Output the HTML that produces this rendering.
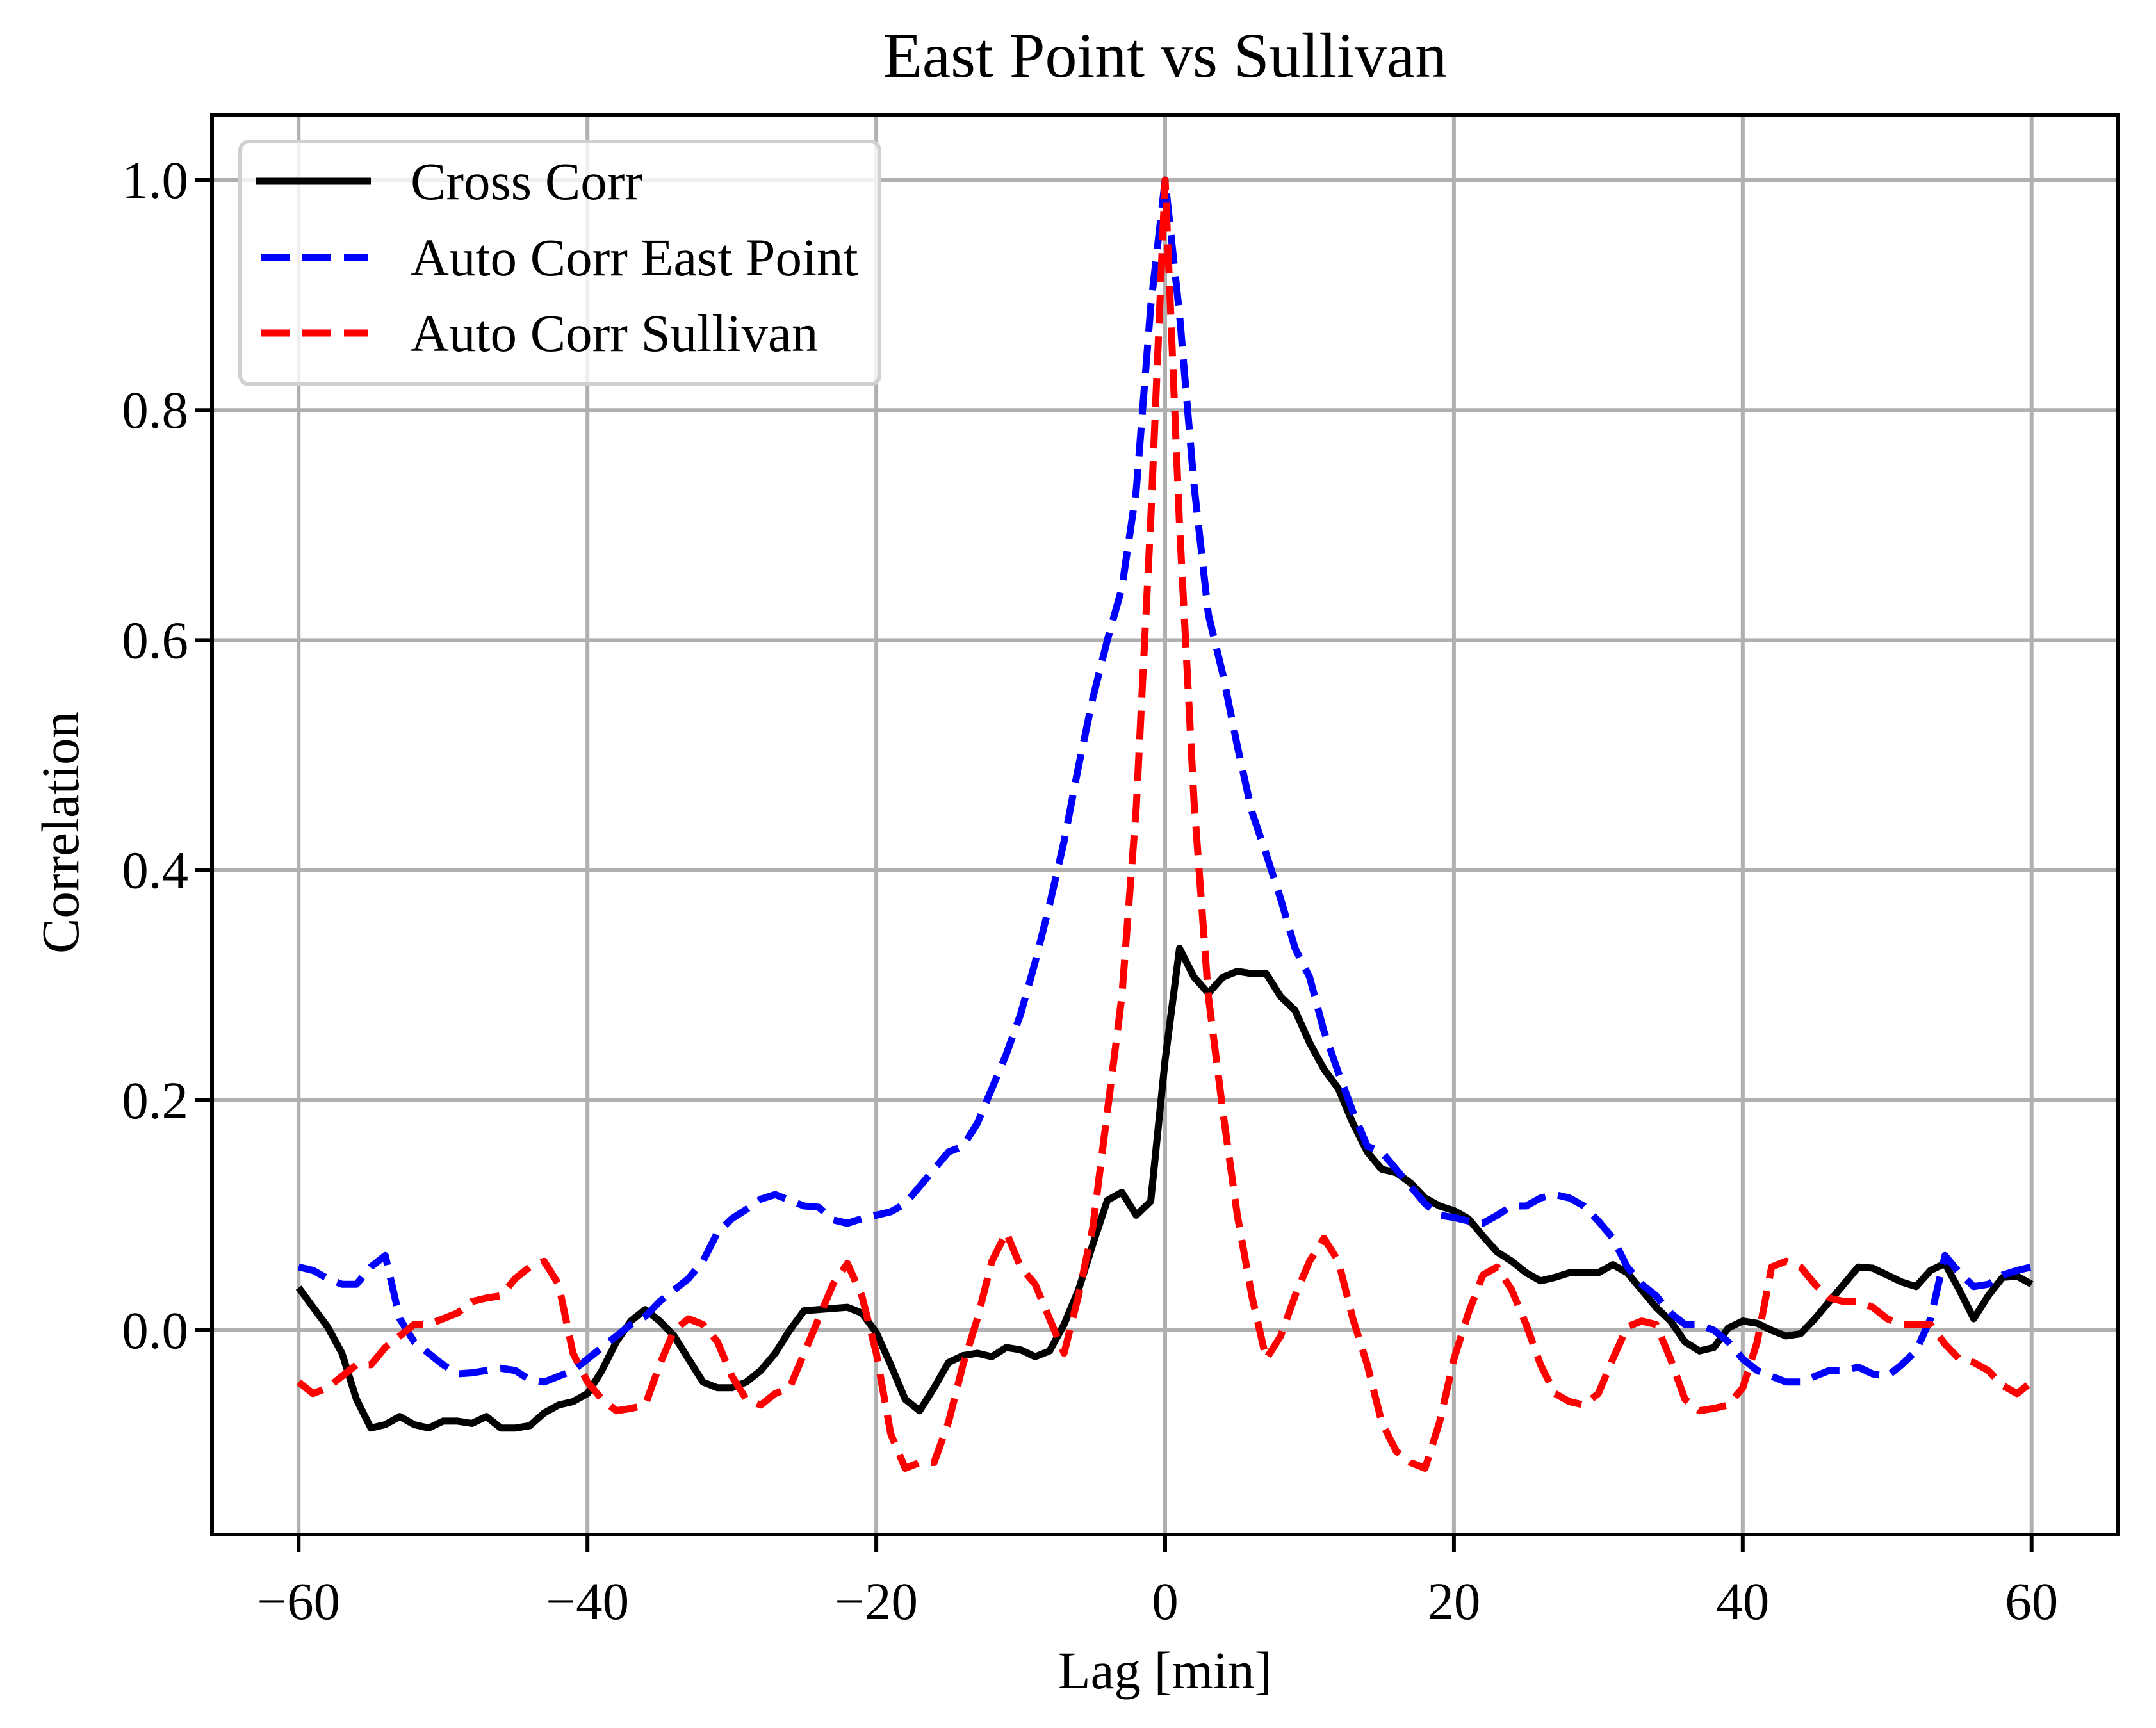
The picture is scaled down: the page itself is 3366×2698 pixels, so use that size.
<!DOCTYPE html>
<html><head><meta charset="utf-8"><style>
html,body{margin:0;padding:0;background:#fff;}
svg{display:block;font-family:"Liberation Serif","DejaVu Serif",serif;}
</style></head><body>
<svg id="chart" width="3366" height="2698" viewBox="0 0 3366 2698" xmlns="http://www.w3.org/2000/svg">
<rect x="0" y="0" width="3366" height="2698" fill="#fff"/>
<g id="grid"></g>
<g id="series"></g>
<rect x="331" y="179" width="2976" height="2217" fill="none" stroke="#000" stroke-width="6"/>
<g id="ticks"></g>
<text x="1819" y="120" font-size="100" text-anchor="middle">East Point vs Sullivan</text>
<text x="1819" y="2636" font-size="83" text-anchor="middle">Lag [min]</text>
<text x="0" y="0" font-size="83" text-anchor="middle" transform="translate(122,1300) rotate(-90)">Correlation</text>
<g>
<rect x="375" y="221" width="998" height="379" rx="14" fill="#fff" fill-opacity="0.8" stroke="#d0d0d0" stroke-width="6"/>
<g>
<line x1="400" y1="283" x2="579" y2="283" stroke="#000" stroke-width="11"/>
<text x="641" y="311" font-size="83">Cross Corr</text></g>
<g>
<line x1="407" y1="402" x2="575" y2="402" stroke="#0000ff" stroke-width="11" stroke-dasharray="45 20"/>
<text x="641" y="430" font-size="83">Auto Corr East Point</text></g>
<g>
<line x1="407" y1="520" x2="575" y2="520" stroke="#ff0000" stroke-width="11" stroke-dasharray="45 20"/>
<text x="641" y="548" font-size="83">Auto Corr Sullivan</text></g>
</g>
</svg>
<script>
const xTicks = [-60, -40, -20, 0, 20, 40, 60];
const xTickLabels = ["\u221260", "\u221240", "\u221220", "0", "20", "40", "60"];
const yTicks = [0.0, 0.2, 0.4, 0.6, 0.8, 1.0];
const yTickLabels = ["0.0", "0.2", "0.4", "0.6", "0.8", "1.0"];
const lagStart = -60;
const crossCorr = [0.037,0.02,0.003,-0.02,-0.06,-0.085,-0.082,-0.075,-0.082,-0.085,-0.079,-0.079,-0.081,-0.075,-0.085,-0.085,-0.083,-0.072,-0.065,-0.062,-0.055,-0.035,-0.01,0.008,0.018,0.008,-0.005,-0.025,-0.045,-0.05,-0.05,-0.045,-0.035,-0.02,0.0,0.017,0.018,0.019,0.02,0.015,-0.002,-0.03,-0.06,-0.07,-0.05,-0.028,-0.022,-0.02,-0.023,-0.015,-0.017,-0.023,-0.018,0.005,0.035,0.075,0.113,0.12,0.1,0.112,0.235,0.332,0.307,0.293,0.307,0.312,0.31,0.31,0.29,0.278,0.25,0.227,0.21,0.18,0.155,0.14,0.137,0.128,0.115,0.108,0.104,0.097,0.082,0.068,0.06,0.05,0.043,0.046,0.05,0.05,0.05,0.057,0.05,0.035,0.02,0.008,-0.01,-0.018,-0.015,0.002,0.008,0.006,0.0,-0.005,-0.003,0.01,0.025,0.04,0.055,0.054,0.048,0.042,0.038,0.052,0.058,0.035,0.01,0.03,0.046,0.047,0.04];
const autoEastPoint = [0.055,0.052,0.045,0.04,0.04,0.055,0.065,0.01,-0.01,-0.02,-0.03,-0.038,-0.037,-0.035,-0.033,-0.035,-0.043,-0.045,-0.04,-0.035,-0.025,-0.015,-0.005,0.005,0.012,0.025,0.035,0.045,0.06,0.085,0.097,0.105,0.114,0.118,0.113,0.108,0.107,0.096,0.093,0.097,0.1,0.103,0.11,0.125,0.14,0.155,0.16,0.18,0.21,0.24,0.275,0.32,0.37,0.425,0.49,0.55,0.6,0.645,0.73,0.89,1.0,0.883,0.735,0.622,0.57,0.508,0.451,0.414,0.375,0.332,0.307,0.26,0.224,0.19,0.16,0.155,0.14,0.125,0.11,0.1,0.098,0.095,0.093,0.1,0.108,0.108,0.115,0.118,0.115,0.108,0.095,0.08,0.055,0.04,0.03,0.015,0.005,0.005,0.0,-0.01,-0.025,-0.035,-0.04,-0.045,-0.045,-0.04,-0.035,-0.035,-0.032,-0.038,-0.04,-0.03,-0.018,0.01,0.065,0.05,0.038,0.04,0.048,0.052,0.055];
const autoSullivan = [-0.045,-0.055,-0.05,-0.04,-0.03,-0.03,-0.015,-0.005,0.005,0.005,0.01,0.015,0.025,0.028,0.03,0.045,0.055,0.06,0.04,-0.02,-0.045,-0.06,-0.07,-0.068,-0.065,-0.03,0.0,0.01,0.005,-0.01,-0.04,-0.06,-0.065,-0.055,-0.05,-0.02,0.01,0.04,0.058,0.03,-0.02,-0.09,-0.12,-0.115,-0.115,-0.08,-0.03,0.01,0.06,0.085,0.055,0.04,0.01,-0.02,0.03,0.09,0.19,0.29,0.454,0.704,1.0,0.70,0.46,0.29,0.19,0.1,0.03,-0.025,-0.005,0.03,0.06,0.08,0.06,0.01,-0.03,-0.08,-0.105,-0.115,-0.12,-0.08,-0.025,0.015,0.048,0.055,0.035,0.005,-0.03,-0.055,-0.062,-0.065,-0.055,-0.025,0.003,0.008,0.005,-0.025,-0.06,-0.07,-0.068,-0.065,-0.05,-0.01,0.055,0.06,0.055,0.04,0.028,0.025,0.025,0.02,0.01,0.005,0.005,0.005,-0.012,-0.025,-0.028,-0.035,-0.048,-0.055,-0.045];

const NS = "http://www.w3.org/2000/svg";
const X0 = 331, X1 = 3307, Y0 = 179, Y1 = 2396;
const xMin = -66, xMax = 66;
function xScale(v){ return X0 + (v - xMin) / (xMax - xMin) * (X1 - X0); }
function yScale(v){ return 2077 - v * 1796; }
function mk(tag, attrs, parent){ const e = document.createElementNS(NS, tag); for (const k in attrs) e.setAttribute(k, attrs[k]); parent.appendChild(e); return e; }

const grid = document.getElementById('grid');
const ticks = document.getElementById('ticks');
xTicks.forEach((t, i) => {
  const x = xScale(t);
  const g = mk('line', {x1:x, x2:x, y1:Y0, y2:Y1, stroke:'#b0b0b0', 'stroke-width':6}, grid);
  
  
  const tk = mk('line', {x1:x, x2:x, y1:Y1, y2:Y1+27, stroke:'#000', 'stroke-width':6}, ticks);
  
  
  const lb = mk('text', {x:x, y:2528, 'font-size':83, 'text-anchor':'middle'}, ticks);
  lb.textContent = xTickLabels[i];
  
  
});
yTicks.forEach((t, i) => {
  const y = yScale(t);
  const g = mk('line', {x1:X0, x2:X1, y1:y, y2:y, stroke:'#b0b0b0', 'stroke-width':6}, grid);
  
  
  const tk = mk('line', {x1:X0-27, x2:X0, y1:y, y2:y, stroke:'#000', 'stroke-width':6}, ticks);
  
  
  const lb = mk('text', {x:294, y:y+28, 'font-size':83, 'text-anchor':'end'}, ticks);
  lb.textContent = yTickLabels[i];
  
  
});

const series = document.getElementById('series');
function drawLine(vals, color, dashed, name){
  const pts = vals.map((v, i) => xScale(lagStart + i).toFixed(1) + ',' + yScale(v).toFixed(1)).join(' ');
  const attrs = {points:pts, fill:'none', stroke:color, 'stroke-width':11, 'stroke-linejoin':'round'};
  if (dashed) attrs['stroke-dasharray'] = '45 20';
  const p = mk('polyline', attrs, series);
  
  
}
drawLine(crossCorr, '#000000', false, 'cross-corr-line');
drawLine(autoEastPoint, '#0000ff', true, 'auto-corr-east-point-line');
drawLine(autoSullivan, '#ff0000', true, 'auto-corr-sullivan-line');
</script>
</body></html>
